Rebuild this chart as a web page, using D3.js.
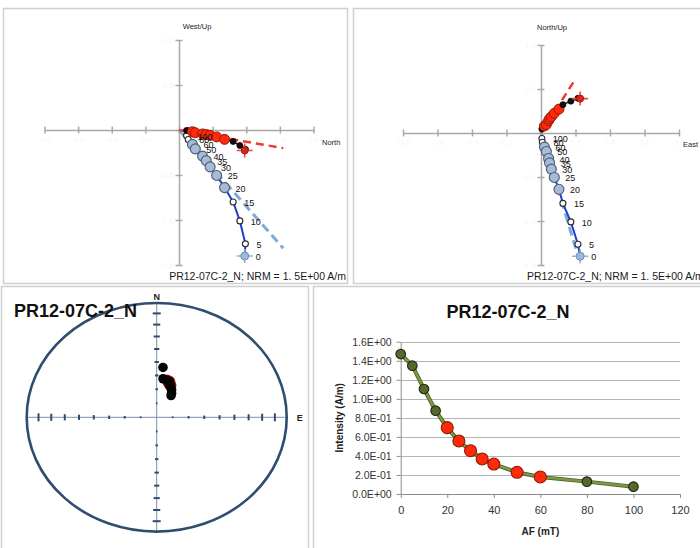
<!DOCTYPE html>
<html><head><meta charset="utf-8">
<script src="https://cdn.jsdelivr.net/npm/d3@7"></script>
<style>
body{margin:0;background:#fff}
svg{display:block}
text{font-family:"Liberation Sans",Arial,sans-serif}
</style>
</head><body>
<svg id="c" width="700" height="548"></svg>
<script>
// AF demagnetization of specimen PR12-07C-2_N
const specimen = "PR12-07C-2_N";
const nrmLabel = "PR12-07C-2_N; NRM = 1. 5E+00 A/m";
const steps    = [0, 5, 10, 15, 20, 25, 30, 35, 40, 50, 60, 80, 100];      // AF (mT)
const northComp = [0.391, 0.395, 0.362, 0.322, 0.271, 0.224, 0.185, 0.162, 0.140, 0.097, 0.080, 0.055, 0.045];
const eastComp  = [0.227, 0.214, 0.173, 0.127, 0.104, 0.077, 0.060, 0.050, 0.044, 0.031, 0.020, 0.008, 0.005];
const downComp  = [1.400, 1.265, 1.010, 0.800, 0.640, 0.505, 0.410, 0.340, 0.290, 0.210, 0.160, 0.105, 0.062];
const fitSteps  = [20, 25, 30, 35, 40, 50, 60];                              // steps used in the line fit
const fitNorth = 0.62, fitEast = 0.202, fitDown = 1.314;                     // fitted component direction
const intensity = [1.47, 1.348, 1.103, 0.875, 0.697, 0.557, 0.455, 0.368, 0.315, 0.228, 0.179, 0.13, 0.077]; // A/m
const compTicksH = [-0.8, -0.6, -0.4, -0.2, 0, 0.2, 0.4, 0.6, 0.8];
const compTicksV = [1.0, 0.5, 0, -0.5, -1.0, -1.5];
const intTicks = [0, 0.2, 0.4, 0.6, 0.8, 1.0, 1.2, 1.4, 1.6];
const afTicks = [0, 20, 40, 60, 80, 100, 120];
const netIncTicks = [80, 70, 60, 50, 40, 30, 20, 10];

const svg = d3.select("#c");
const idx = d3.range(steps.length);
const isFit = i => fitSteps.includes(steps[i]);

// panel frames
[[3,8,344,275],[353,8,352,275],[1,286,307,268],[313,286,392,268]].forEach(([x,y,w,h]) =>
  svg.append("rect").attr("x",x+0.5).attr("y",y+0.5).attr("width",w).attr("height",h)
     .attr("fill","#fff").attr("stroke","#cfcfcf").attr("stroke-width",1.5));

// ---------- orthogonal vector plots ----------
function zijderveld(cfg){
  const g = svg.append("g");
  const x = d3.scaleLinear([-0.8, 0.8], cfg.xr);
  const y = d3.scaleLinear([1.0, -1.5], cfg.yr);
  const x0 = x(0), y0 = y(0);

  // washed-out tick values
  g.selectAll("t.h").data(compTicksH.filter(v => v !== 0)).join("text")
    .attr("x", d => x(d)).attr("y", y0 + 12).attr("text-anchor","middle")
    .attr("font-size",8).attr("fill","#f8f8f8").text(d => d.toFixed(1));
  g.selectAll("t.v").data(compTicksV.filter(v => v !== 0)).join("text")
    .attr("x", x0 - 5).attr("y", d => y(d) + 3).attr("text-anchor","end")
    .attr("font-size",8).attr("fill","#f6f6f6").text(d => d.toFixed(1));

  const ax = g.append("g").attr("transform",`translate(0,${y0})`)
    .call(d3.axisBottom(x).tickValues(compTicksH).tickSize(3.5).tickSizeOuter(0).tickFormat(""));
  ax.selectAll(".tick line").attr("y1",-3.5);
  const ay = g.append("g").attr("transform",`translate(${x0},0)`)
    .call(d3.axisLeft(y).tickValues(compTicksV).tickSize(3.5).tickSizeOuter(0).tickFormat(""));
  ay.selectAll(".tick line").attr("x1",3.5);
  g.selectAll(".domain, .tick line").attr("stroke","#a8a8a8").attr("stroke-width",1.5);

  g.append("text").attr("x",cfg.upLabel[1]).attr("y",cfg.upLabel[2]).attr("text-anchor","middle")
    .attr("font-size",7.5).attr("fill","#222").text(cfg.upLabel[0]);
  g.append("text").attr("x",cfg.rightLabel[1]).attr("y",cfg.rightLabel[2])
    .attr("font-size",7.5).attr("fill","#222").text(cfg.rightLabel[0]);

  const hPt = i => [x(cfg.hx(i)), y(cfg.hy(i))];
  const vPt = i => [x(cfg.vx(i)), y(cfg.vy(i))];

  // fitted directions through the origin
  g.append("line").attr("x1",x0).attr("y1",y0)
    .attr("x2",x(cfg.fitV[0])).attr("y2",y(cfg.fitV[1]))
    .attr("stroke","#7fa9d8").attr("stroke-width",3).attr("stroke-dasharray","9,5");
  g.append("line").attr("x1",x0).attr("y1",y0)
    .attr("x2",x(cfg.fitH[0])).attr("y2",y(cfg.fitH[1]))
    .attr("stroke","#f03a30").attr("stroke-width",2.5).attr("stroke-dasharray","8,5");

  // demagnetization paths
  g.append("path").attr("d", d3.line()(idx.map(vPt)))
    .attr("fill","none").attr("stroke","#1f3fd4").attr("stroke-width",2);
  g.append("path").attr("d", d3.line()(idx.map(hPt)))
    .attr("fill","none").attr("stroke","#1a1a1a").attr("stroke-width",1.5);

  // vertical projection markers
  idx.slice().reverse().forEach(i => {
    const [px,py] = vPt(i);
    if (i === 0){
      g.append("path").attr("d",`M${px-8},${py}H${px+8}M${px},${py-7}V${py+7}`)
        .attr("stroke","#8db1e0").attr("stroke-width",1.6);
      g.append("circle").attr("cx",px).attr("cy",py).attr("r",4)
        .attr("fill","#9db8dc").attr("stroke","#6d8fbd").attr("stroke-width",1);
    } else if (isFit(i)){
      g.append("circle").attr("cx",px).attr("cy",py).attr("r",5)
        .attr("fill","#a6bbd9").attr("stroke","#4f5c6e").attr("stroke-width",1.1);
    } else {
      g.append("circle").attr("cx",px).attr("cy",py).attr("r",3)
        .attr("fill","#fff").attr("stroke","#2a2a2a").attr("stroke-width",1.1);
    }
  });
  // horizontal projection markers
  idx.slice().reverse().forEach(i => {
    const [px,py] = hPt(i);
    if (i === 0){
      g.append("path").attr("d",`M${px-8},${py}H${px+8}M${px},${py-7}V${py+7}`)
        .attr("stroke","#f04a40").attr("stroke-width",1.6);
      g.append("circle").attr("cx",px).attr("cy",py).attr("r",3.5)
        .attr("fill","#d8261a").attr("stroke","#a01a10").attr("stroke-width",1);
    } else if (isFit(i)){
      g.append("circle").attr("cx",px).attr("cy",py).attr("r",5)
        .attr("fill","#ff2a0c").attr("stroke","#9a1c08").attr("stroke-width",1);
    } else {
      g.append("circle").attr("cx",px).attr("cy",py).attr("r",3)
        .attr("fill","#111").attr("stroke","#000").attr("stroke-width",0.8);
    }
  });
  // step labels
  idx.forEach(i => {
    const [px,py] = vPt(i);
    g.append("text").attr("x",px+11).attr("y",py+4).attr("font-size",9)
      .attr("fill","#111").text(steps[i]);
  });
  g.append("text").attr("x",cfg.foot[0]).attr("y",cfg.foot[1]).attr("text-anchor",cfg.foot[2])
    .attr("font-size",10.5).attr("fill","#1a1a1a").text(nrmLabel);
}

zijderveld({
  xr:[44.5,313.5], yr:[40,265],
  hx:i => northComp[i], hy:i => -eastComp[i],
  vx:i => northComp[i], vy:i => -downComp[i],
  fitH:[fitNorth, -fitEast], fitV:[fitNorth, -fitDown],
  upLabel:["West/Up",197,29], rightLabel:["North",322,145],
  foot:[346,280,"end"]
});
zijderveld({
  xr:[403,679], yr:[45,265],
  hx:i => eastComp[i], hy:i => northComp[i],
  vx:i => eastComp[i], vy:i => -downComp[i],
  fitH:[fitEast, fitNorth], fitV:[fitEast, -fitDown],
  upLabel:["North/Up",552,30], rightLabel:["East",683,147],
  foot:[527,280,"start"]
});

// ---------- equal-area projection ----------
(function(){
  const g = svg.append("g");
  const sx = d3.scaleLinear([-1,1],[26.7,286.7]);
  const sy = d3.scaleLinear([-1,1],[531.6,303]);
  const rad = Math.PI/180;
  const eqArea = inc => Math.SQRT2*Math.sin((90-Math.abs(inc))/2*rad);
  const cx = sx(0), cy = sy(0);

  g.append("line").attr("x1",sx(-1)).attr("x2",sx(1)).attr("y1",cy).attr("y2",cy)
    .attr("stroke","#7d90a8").attr("stroke-width",1);
  g.append("line").attr("x1",cx).attr("x2",cx).attr("y1",sy(1)).attr("y2",sy(-1))
    .attr("stroke","#7d90a8").attr("stroke-width",1);

  netIncTicks.forEach((inc,k) => {
    const r = eqArea(inc), h = 0.8 + 3.2*k/7;
    [-1,1].forEach(s => {
      g.append("line").attr("x1",sx(s*r)).attr("x2",sx(s*r)).attr("y1",cy-h).attr("y2",cy+h)
        .attr("stroke","#2f4b70").attr("stroke-width",2);
      g.append("line").attr("x1",cx-h).attr("x2",cx+h).attr("y1",sy(s*r)).attr("y2",sy(s*r))
        .attr("stroke","#2f4b70").attr("stroke-width",2);
    });
  });

  g.append("ellipse").attr("cx",cx).attr("cy",cy)
    .attr("rx",sx(1)-cx).attr("ry",cy-sy(1))
    .attr("fill","none").attr("stroke","#2f4d6f").attr("stroke-width",2.6);

  const dirs = idx.map(i => {
    const h = Math.hypot(northComp[i], eastComp[i]);
    const dec = Math.atan2(eastComp[i], northComp[i]);
    const inc = Math.atan2(downComp[i], h)/rad;
    const r = eqArea(inc);
    return {i, x: sx(r*Math.sin(dec)), y: sy(r*Math.cos(dec))};
  });
  g.selectAll("circle.f").data(dirs.filter(d => isFit(d.i))).join("circle")
    .attr("cx",d => d.x).attr("cy",d => d.y).attr("r",5.8).attr("fill","#c0140c");
  g.selectAll("circle.a").data(dirs).join("circle")
    .attr("cx",d => d.x).attr("cy",d => d.y).attr("r",4.8).attr("fill","#050505");

  g.append("text").attr("x",cx).attr("y",sy(1)-3).attr("text-anchor","middle")
    .attr("font-size",9).attr("font-weight","bold").attr("fill","#222").text("N");
  g.append("text").attr("x",sx(1)+13).attr("y",cy+4).attr("text-anchor","middle")
    .attr("font-size",9).attr("font-weight","bold").attr("fill","#222").text("E");
  g.append("text").attr("x",14).attr("y",317).attr("font-size",18).attr("font-weight","bold")
    .attr("fill","#111").text(specimen);
})();

// ---------- intensity decay ----------
(function(){
  const g = svg.append("g");
  const x = d3.scaleLinear([0,120],[400.7,680]);
  const y = d3.scaleLinear([0,1.6],[494,341.7]);
  const sci = v => {
    if (v === 0) return "0.0E+00";
    const e = Math.floor(Math.log10(v) + 1e-9);
    const m = v/Math.pow(10,e);
    return m.toFixed(1) + "E" + (e < 0 ? "-" : "+") + String(Math.abs(e)).padStart(2,"0");
  };
  g.append("g").selectAll("line").data(intTicks.slice(1)).join("line")
    .attr("x1",x(0)).attr("x2",x(120)).attr("y1",d => Math.round(y(d))+0.5).attr("y2",d => Math.round(y(d))+0.5)
    .attr("stroke","#b4b4b4").attr("stroke-width",1);

  const ya = g.append("g").attr("transform",`translate(${x(0)},0)`)
    .call(d3.axisLeft(y).tickValues(intTicks).tickSize(4).tickSizeOuter(0).tickFormat(sci));
  const xa = g.append("g").attr("transform",`translate(0,${y(0)})`)
    .call(d3.axisBottom(x).tickValues(afTicks).tickSize(4).tickSizeOuter(0));
  g.selectAll(".domain, .tick line").attr("stroke","#8c8c8c").attr("stroke-width",1);
  ya.selectAll("text").attr("font-size",10.5).attr("fill","#333").attr("x",-9);
  xa.selectAll("text").attr("font-size",11).attr("fill","#333").attr("dy","1.2em");

  const pts = idx.map(i => [x(steps[i]), y(intensity[i])]);
  g.append("path").attr("d",d3.line()(pts)).attr("fill","none")
    .attr("stroke","#4f6228").attr("stroke-width",4);
  g.append("path").attr("d",d3.line()(pts)).attr("fill","none")
    .attr("stroke","#7f9a45").attr("stroke-width",2.2);
  g.selectAll("circle").data(idx).join("circle")
    .attr("cx",i => pts[i][0]).attr("cy",i => pts[i][1])
    .attr("r",i => isFit(i) ? 6 : 4.8)
    .attr("fill",i => isFit(i) ? "#ff2a0a" : "#55692c")
    .attr("stroke",i => isFit(i) ? "#8e1a06" : "#1e2410").attr("stroke-width",1.1);

  g.append("text").attr("x",508).attr("y",318).attr("text-anchor","middle")
    .attr("font-size",18).attr("font-weight","bold").attr("fill","#111").text(specimen);
  g.append("text").attr("x",x(60)).attr("y",535).attr("text-anchor","middle")
    .attr("font-size",10).attr("font-weight","bold").attr("fill","#222").text("AF (mT)");
  g.append("text").attr("transform",`translate(343,${y(0.8)}) rotate(-90)`).attr("text-anchor","middle")
    .attr("font-size",10).attr("font-weight","bold").attr("fill","#222").text("Intensity (A/m)");
})();
</script>
</body></html>
